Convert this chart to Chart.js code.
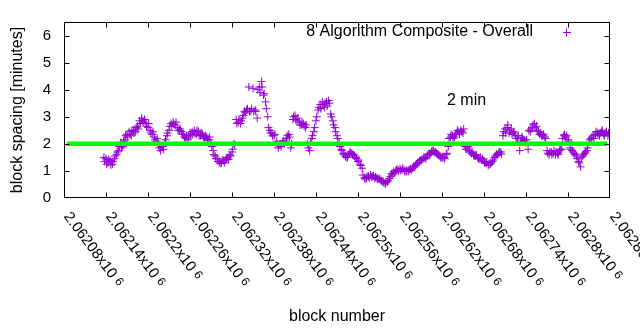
<!DOCTYPE html>
<html><head><meta charset="utf-8">
<script src="https://cdn.jsdelivr.net/npm/chart.js@4/dist/chart.umd.min.js"></script>
<style>html,body{margin:0;padding:0;background:#fff;}canvas{display:block;}</style>
</head><body>
<canvas id="c" width="640" height="330"></canvas>
<script>
const blockNumbers = [
2062137,2062140,2062143,2062146,2062149,2062152,2062155,2062158,2062161,2062164,
2062167,2062170,2062173,2062176,2062179,2062182,2062185,2062188,2062191,2062194,
2062197,2062200,2062203,2062206,2062209,2062212,2062215,2062218,2062221,2062224,
2062227,2062230,2062233,2062236,2062239,2062242,2062245,2062248,2062251,2062254,
2062257,2062260,2062263,2062266,2062269,2062272,2062275,2062278,2062281,2062284,
2062287,2062290,2062293,2062296,2062299,2062302,2062305,2062308,2062311,2062314,
2062317,2062320,2062323,2062326,2062329,2062332,2062335,2062338,2062341,2062344,
2062347,2062350,2062353,2062356,2062359,2062362,2062365,2062368,2062371,2062374,
2062377,2062380,2062383,2062386,2062389,2062392,2062395,2062398,2062401,2062404,
2062407,2062410,2062413,2062416,2062419,2062422,2062425,2062428,2062431,2062434,
2062437,2062440,2062443,2062446,2062449,2062452,2062455,2062458,2062461,2062464,
2062467,2062470,2062473,2062476,2062479,2062482,2062485,2062488,2062491,2062494,
2062497,2062500,2062503,2062506,2062509,2062512,2062515,2062518,2062521,2062524,
2062527,2062530,2062533,2062536,2062539,2062542,2062545,2062548,2062551,2062554,
2062557,2062560,2062563,2062566,2062569,2062572,2062575,2062578,2062581,2062584,
2062587,2062590,2062593,2062596,2062599,2062602,2062605,2062608,2062611,2062614,
2062617,2062620,2062623,2062626,2062629,2062632,2062635,2062638,2062641,2062644,
2062647,2062650,2062653,2062656,2062659,2062662,2062665,2062668,2062671,2062674,
2062677,2062680,2062683,2062686,2062689,2062692,2062695,2062698,2062701,2062704,
2062707,2062710,2062713,2062716,2062719,2062722,2062725,2062728,2062731,2062734,
2062737,2062740,2062743,2062746,2062749,2062752,2062755,2062758,2062761,2062764,
2062767,2062770,2062773,2062776,2062779,2062782,2062785,2062788,2062791,2062794,
2062797,2062800,2062803,2062806,2062809,2062812,2062815,2062818,2062821,2062824,
2062827,2062830,2062833,2062836,2062839,2062842,2062845,2062848,2062851,2062854,
2062857];

const blockSpacing = [
1.5,1.45,1.3,1.38,1.25,1.45,1.6,1.75,2.05,1.9,
2.15,2.35,2.45,2.3,2.5,2.45,2.65,2.85,2.95,2.8,
2.75,2.6,2.5,2.35,2.25,2.1,1.95,1.75,1.9,2.05,
2.3,2.5,2.75,2.8,2.7,2.6,2.5,2.45,2.35,2.2,
2.15,2.4,2.45,2.5,2.35,2.45,2.3,2.35,2.2,2.25,
2.15,2.05,1.75,1.55,1.45,1.35,1.3,1.38,1.4,1.5,
1.6,1.7,2.0,2.9,2.8,2.75,2.95,3.2,3.25,4.1,
3.2,4.05,3.25,2.95,4.1,4.3,3.8,3.55,3.0,2.5,
2.4,2.3,2.0,1.85,2.0,2.05,2.0,2.2,2.35,1.85,
2.9,3.05,2.85,2.8,2.7,2.75,2.6,2.0,1.75,2.2,
2.45,2.85,3.25,3.45,3.55,3.35,3.55,3.6,3.1,2.85,
2.6,2.3,2.05,1.8,1.65,1.55,1.5,1.65,1.65,1.6,
1.5,1.35,1.25,1.1,0.75,0.72,0.8,0.85,0.8,0.72,
0.75,0.7,0.65,0.6,0.52,0.6,0.72,0.9,0.98,1.0,
1.05,1.08,1.05,1.02,0.98,1.0,1.08,1.1,1.15,1.25,
1.32,1.38,1.45,1.5,1.55,1.65,1.7,1.75,1.7,1.62,
1.55,1.48,1.5,1.6,1.9,2.25,2.3,2.25,2.4,2.45,
2.5,2.4,1.9,1.85,1.75,1.65,1.6,1.55,1.5,1.45,
1.4,1.35,1.28,1.2,1.25,1.35,1.5,1.62,1.65,1.7,
2.3,2.55,2.6,2.4,2.55,2.45,2.3,2.2,1.75,2.25,
2.15,2.05,1.8,2.45,2.6,2.75,2.65,2.45,2.4,2.3,
2.25,1.75,1.6,1.7,1.65,1.6,1.65,1.75,1.8,2.3,
2.25,2.15,1.85,1.75,1.65,1.55,1.35,1.15,1.55,1.65,
1.75,2.05,2.2,2.3,2.35,2.4,2.3,2.45,2.35,2.4,
2.3];

const blockNumbersB = [
2062138,2062141,2062144,2062147,2062150,2062153,2062156,2062159,2062162,2062165,
2062168,2062171,2062174,2062177,2062180,2062183,2062186,2062189,2062192,2062195,
2062198,2062201,2062204,2062207,2062210,2062213,2062216,2062219,2062222,2062225,
2062228,2062231,2062234,2062237,2062240,2062243,2062246,2062249,2062252,2062255,
2062258,2062261,2062264,2062267,2062270,2062273,2062276,2062279,2062282,2062285,
2062288,2062291,2062294,2062297,2062300,2062303,2062306,2062309,2062312,2062315,
2062318,2062321,2062324,2062327,2062330,2062333,2062336,2062339,2062342,2062345,
2062348,2062351,2062354,2062357,2062360,2062363,2062366,2062369,2062372,2062375,
2062378,2062381,2062384,2062387,2062390,2062393,2062396,2062399,2062402,2062405,
2062408,2062411,2062414,2062417,2062420,2062423,2062426,2062429,2062432,2062435,
2062438,2062441,2062444,2062447,2062450,2062453,2062456,2062459,2062462,2062465,
2062468,2062471,2062474,2062477,2062480,2062483,2062486,2062489,2062492,2062495,
2062498,2062501,2062504,2062507,2062510,2062513,2062516,2062519,2062522,2062525,
2062528,2062531,2062534,2062537,2062540,2062543,2062546,2062549,2062552,2062555,
2062558,2062561,2062564,2062567,2062570,2062573,2062576,2062579,2062582,2062585,
2062588,2062591,2062594,2062597,2062600,2062603,2062606,2062609,2062612,2062615,
2062618,2062621,2062624,2062627,2062630,2062633,2062636,2062639,2062642,2062645,
2062648,2062651,2062654,2062657,2062660,2062663,2062666,2062669,2062672,2062675,
2062678,2062681,2062684,2062687,2062690,2062693,2062696,2062699,2062702,2062705,
2062708,2062711,2062714,2062717,2062720,2062723,2062726,2062729,2062732,2062735,
2062738,2062741,2062744,2062747,2062750,2062753,2062756,2062759,2062762,2062765,
2062768,2062771,2062774,2062777,2062780,2062783,2062786,2062789,2062792,2062795,
2062798,2062801,2062804,2062807,2062810,2062813,2062816,2062819,2062822,2062825,
2062828,2062831,2062834,2062837,2062840,2062843,2062846,2062849,2062852,2062855,
2062858];

const blockSpacingB = [
1.35,1.25,1.42,1.22,1.35,1.55,1.7,1.9,1.85,2.1,
2.3,2.25,2.35,2.5,2.4,2.6,2.55,2.75,2.85,2.9,
2.65,2.75,2.4,2.45,2.15,2.2,1.85,1.9,1.8,2.15,
2.4,2.65,2.65,2.72,2.8,2.5,2.55,2.35,2.25,2.3,
2.25,2.3,2.35,2.4,2.5,2.3,2.4,2.25,2.3,2.15,
2.25,1.9,1.6,1.45,1.35,1.28,1.4,1.3,1.45,1.42,
1.55,1.8,1.95,2.75,2.9,2.85,3.05,3.15,3.3,3.2,
3.3,3.2,3.2,4.0,3.9,4.1,3.85,3.3,2.6,2.4,
2.3,2.35,2.1,1.95,1.9,2.1,2.1,2.3,2.25,2.0,
3.0,2.9,2.95,2.7,2.8,2.65,2.7,1.85,2.05,2.3,
2.6,3.0,3.35,3.3,3.45,3.5,3.4,3.5,3.0,2.7,
2.45,2.2,1.9,1.75,1.6,1.5,1.6,1.7,1.6,1.55,
1.45,1.4,1.2,0.85,0.7,0.8,0.75,0.78,0.82,0.78,
0.7,0.72,0.62,0.55,0.58,0.65,0.8,0.85,0.92,1.05,
1.0,1.02,1.1,0.98,1.02,1.05,1.02,1.15,1.2,1.3,
1.38,1.42,1.5,1.45,1.6,1.6,1.75,1.68,1.65,1.58,
1.5,1.52,1.45,1.65,2.2,2.35,2.2,2.35,2.5,2.35,
2.45,2.55,1.8,1.9,1.7,1.7,1.55,1.6,1.45,1.5,
1.45,1.3,1.32,1.25,1.3,1.4,1.55,1.58,1.7,1.62,
2.45,2.4,2.7,2.5,2.35,2.4,2.2,2.3,2.1,2.2,
2.1,2.15,2.5,2.55,2.7,2.6,2.5,2.35,2.3,2.35,
2.2,1.65,1.7,1.6,1.75,1.7,1.6,1.8,2.2,2.35,
2.3,2.1,1.8,1.7,1.6,1.45,1.3,1.5,1.6,1.7,
1.85,2.15,2.25,2.2,2.45,2.35,2.4,2.5,2.3,2.45,
2.4];

const targetBlocks = [2062084, 2062856];
const targetMinutes = [2, 2];

const xTickValues = [2062080,2062140,2062200,2062260,2062320,2062380,2062440,2062500,2062560,2062620,2062680,2062740,2062800,2062860];
const xTickLabels = ['2.06208','2.06214','2.0622','2.06226','2.06232','2.06238','2.06244','2.0625','2.06256','2.06262','2.06268','2.06274','2.0628','2.06286'];
const xTickExponent = '6';
const yTickValues = [0,1,2,3,4,5,6];
const yTickLabels = ['0','1','2','3','4','5','6'];

const seriesName = '8 Algorithm Composite - Overall';
const targetLabel = '2 min';
const xTitle = 'block number';
const yTitle = 'block spacing [minutes]';

const FONT = '"Liberation Sans", Arial, sans-serif';
const PURPLE = '#9400D3';
const GREEN = '#00ff00';

const overlay = {
  id: 'overlay',
  afterDraw(chart) {
    const {ctx, chartArea: a, scales: {x, y}} = chart;
    ctx.save();
    ctx.strokeStyle = '#000';
    ctx.lineWidth = 1;
    const L = (x1, y1, x2, y2) => { ctx.beginPath(); ctx.moveTo(x1, y1); ctx.lineTo(x2, y2); ctx.stroke(); };
    const l = Math.round(a.left) + 0.5, r = Math.round(a.right) - 0.5, t = Math.round(a.top) + 0.5, b = Math.round(a.bottom) - 0.5;
    ctx.strokeRect(l, t, r - l, b - t);
    xTickValues.forEach(v => {
      const px = Math.round(x.getPixelForValue(v)) + 0.5;
      if (px > l + 1 && px < r - 1) { L(px, b, px, b - 5); L(px, t, px, t + 5); }
    });
    yTickValues.forEach(v => {
      const py = Math.round(y.getPixelForValue(v)) + 0.5;
      if (py < b - 1 && py > t + 1) { L(l, py, l + 5, py); L(r, py, r - 5, py); }
    });
    // rotated x tick labels
    ctx.fillStyle = '#000';
    xTickValues.forEach((v, i) => {
      const px = x.getPixelForValue(v);
      const main = xTickLabels[i] + 'x10';
      ctx.save();
      ctx.translate(px + 2.5, a.bottom + 16);
      ctx.rotate(53 * Math.PI / 180);
      ctx.textAlign = 'left';
      ctx.textBaseline = 'middle';
      ctx.font = '15px ' + FONT;
      ctx.fillText(main, 0, 0);
      const w = ctx.measureText(main).width;
      ctx.font = '12px ' + FONT;
      ctx.fillText(xTickExponent, w + 4, -1);
      ctx.restore();
    });
    // legend
    ctx.font = '16px ' + FONT;
    ctx.textAlign = 'right';
    ctx.textBaseline = 'middle';
    ctx.fillText(seriesName, 533, 32);
    ctx.strokeStyle = PURPLE;
    L(563, 32.5, 571, 32.5);
    L(566.5, 28.5, 566.5, 36.5);
    // 2 min label
    ctx.fillStyle = '#000';
    ctx.textAlign = 'left';
    ctx.fillText(targetLabel, 447, 101);
    ctx.restore();
  }
};

const scatterPoints = blockNumbers.map((b, i) => ({x: b, y: blockSpacing[i]}))
  .concat(blockNumbersB.map((b, i) => ({x: b, y: blockSpacingB[i]})));

new Chart(document.getElementById('c'), {
  data: {
    datasets: [
      {
        type: 'line',
        label: targetLabel,
        data: targetBlocks.map((b, i) => ({x: b, y: targetMinutes[i]})),
        borderColor: GREEN,
        borderWidth: 4.5,
        pointRadius: 0,
        fill: false,
        order: 0
      },
      {
        type: 'scatter',
        label: seriesName,
        data: scatterPoints,
        pointStyle: 'cross',
        pointRadius: 4,
        pointBorderWidth: 1,
        borderWidth: 1,
        borderColor: PURPLE,
        backgroundColor: PURPLE,
        order: 1
      }
    ]
  },
  options: {
    responsive: false,
    animation: false,
    devicePixelRatio: 1,
    layout: {padding: {top: 19, right: 30, left: 0, bottom: 0}},
    plugins: {legend: {display: false}, tooltip: {enabled: false}},
    scales: {
      x: {
        type: 'linear',
        min: 2062080, max: 2062860,
        grid: {display: false, drawTicks: false},
        border: {display: false},
        ticks: {display: false, stepSize: 60},
        title: {display: true, text: xTitle, color: '#000', font: {family: FONT, size: 16}, padding: {top: 0, bottom: 4}},
        afterFit(s) { s.height = 132; }
      },
      y: {
        type: 'linear',
        min: 0, max: 6.5,
        grid: {display: false, drawTicks: false},
        border: {display: false},
        ticks: {stepSize: 1, includeBounds: false, padding: 13, color: '#000', font: {family: FONT, size: 15},
          callback: (v) => { const k = yTickValues.indexOf(v); return k >= 0 ? yTickLabels[k] : ''; }},
        title: {display: true, text: yTitle, color: '#000', font: {family: FONT, size: 16}, padding: {top: 8, bottom: 0}},
        afterFit(s) { s.width = 64; }
      }
    }
  },
  plugins: [overlay]
});
</script>
</body></html>
